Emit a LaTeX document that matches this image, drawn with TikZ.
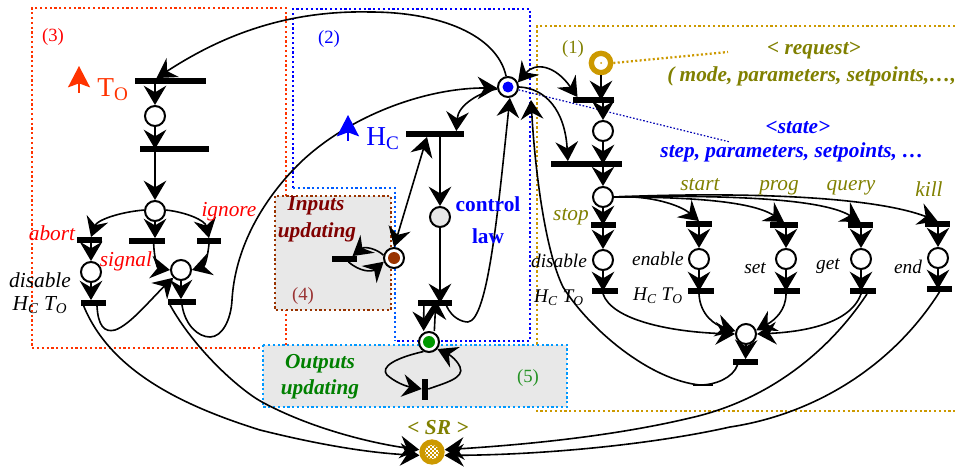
\documentclass[tikz,border=0pt]{standalone}
\usepackage{fontspec}
\setmainfont{Liberation Serif}
\usetikzlibrary{arrows.meta,calc}
\definecolor{gold}{HTML}{CC9900}
\definecolor{olive2}{HTML}{808000}
\definecolor{redbox}{HTML}{FF3300}
\definecolor{skyb}{HTML}{0099FF}
\definecolor{brownb}{HTML}{993300}
\definecolor{dred}{HTML}{800000}
\definecolor{greytone}{HTML}{E8E8E8}
\definecolor{dgreen}{HTML}{008000}
\newcommand{\HT}{H\textsubscript{C} T\textsubscript{O}}
\tikzset{
  x=0.75pt,y=-0.75pt,
  place/.style={circle,draw=black,fill=white,line width=1.5pt,minimum size=15pt,inner sep=0pt},
  bar/.style={rectangle,fill=black,inner sep=0pt,minimum height=4pt,minimum width=#1*0.75pt},
  vbar/.style={rectangle,fill=black,inner sep=0pt,minimum width=4.5pt,minimum height=#1*0.75pt},
  edge/.style={line width=1.2pt,-{Stealth[length=14.5pt,width=17pt,inset=5pt]}},
  edgeb/.style={line width=1.2pt,{Stealth[length=14.5pt,width=17pt,inset=5pt]}-{Stealth[length=14.5pt,width=17pt,inset=5pt]}},
  plain/.style={line width=1.2pt},
  zone/.style={line width=2pt,dash pattern=on 1.7pt off 1.9pt},
  lab/.style={inner sep=0pt,font=\fontsize{16}{18}\selectfont\itshape},
  labs/.style={inner sep=0pt,font=\fontsize{14.5}{16}\selectfont\itshape},
  head/.style={inner sep=0pt,font=\fontsize{16}{18}\selectfont\bfseries\itshape},
  num/.style={inner sep=0pt,font=\fontsize{14}{16}\selectfont},
  big/.style={inner sep=0pt,font=\fontsize{20.5}{24}\selectfont},
  clockarrow/.style={line width=1.6pt,-{Stealth[length=16pt,width=16.5pt,inset=3pt]}},
}
\begin{document}
\begin{tikzpicture}
\useasboundingbox (0,0) rectangle (955,470);
% zones
\draw[zone,redbox] (286,345) -- (286,8) -- (32,8) -- (32,348) -- (265,348);
\draw[zone,blue] (293,188) -- (293,9) -- (530,9) -- (530,341) -- (395,341);
\draw[zone,skyb!60!blue] (293,188) -- (395,188) -- (395,341);
\draw[zone,gold] (955,26) -- (537,26) -- (537,411) -- (955,411);
\draw[zone,brownb,fill=greytone] (275,196) rectangle (391,310);
\draw[zone,skyb,fill=greytone] (263,345) rectangle (567,407);
% places
\node[place] (a1) at (155,116) {};
\node[place] (a2) at (155,211) {};
\node[place] (a3) at (91,272) {};
\node[place] (a4) at (181,270) {};
\node[place] (main) at (508,87) {};
\node[place,fill=greytone] (c1) at (440,217) {};
\node[place] (green) at (429,342) {};
\node[place] (inp) at (394,258) {};
\node[place,draw=gold,line width=4pt,minimum size=14.5pt] (req) at (601,63) {};
\node[place] (r1) at (603,131) {};
\node[place] (r2) at (603,197) {};
\node[place] (s1) at (603,260) {};
\node[place] (s2) at (699,259) {};
\node[place] (s3) at (786,259) {};
\node[place] (s4) at (861,259) {};
\node[place] (s5) at (938,258) {};
\node[place] (col) at (746,334) {};
\node[circle,fill=gold,minimum size=19pt,inner sep=0pt] (sr) at (432,452) {};
% tokens
\fill[blue] (main) circle (5.5);
\fill[green!60!black] (green) circle (6);
\fill[brownb] (inp) circle (6);
\fill[gold] (req) circle (1);
\begin{scope}
\clip (sr) circle (7);
\fill[white] (sr) circle (7);
\foreach \i in {-4,...,3}{\foreach \j in {-4,...,3}{
  \pgfmathparse{int(mod(\i+\j+8,2))}
  \ifnum\pgfmathresult=0 \fill[gold] ($(sr)+(\i*2,\j*2)$) rectangle +(2,2);\fi}}
\end{scope}
% transitions
\node[bar=71] (ta) at (170.5,81) {};
\node[bar=69] (tb) at (174.5,149) {};
\node[bar=25] (tabort) at (89.5,240) {};
\node[bar=36] (tsig) at (147,241) {};
\node[bar=24] (tign) at (209,241) {};
\node[bar=25] (tc) at (93,303) {};
\node[bar=28] (td) at (182,302) {};
\node[bar=58] (thc) at (435,134) {};
\node[bar=34] (tlaw) at (434.5,303) {};
\node[vbar=21] (tout) at (425,389) {};
\node[bar=25] (tin) at (344.5,259) {};
\node[bar=41] (t1) at (593.5,100) {};
\node[bar=71] (t2) at (586.5,164) {};
\node[bar=25] (u1) at (603.5,225) {};
\node[bar=26] (u2) at (699,224) {};
\node[bar=28] (u3) at (784,225) {};
\node[bar=25] (u4) at (860.5,225) {};
\node[bar=25] (u5) at (937.5,224) {};
\node[bar=26] (v1) at (605,291) {};
\node[bar=26] (v2) at (701,291) {};
\node[bar=26] (v3) at (787,291) {};
\node[bar=26] (v4) at (863,291) {};
\node[bar=25] (v5) at (939.5,289) {};
\node[bar=25] (w) at (745.5,362) {};
\coordinate (reqend) at (728,52);
\coordinate (stateend) at (730,142);
% dotted callouts
\draw[gold,line width=1.7pt,dash pattern=on 1.5pt off 1.8pt] (req.east) -- (reqend);
\draw[blue!70!black,line width=.9pt,dash pattern=on 1.2pt off 1.4pt] (main.-15) -- (stateend);
% left net
\draw[edge] (main.100) .. controls (497,35) and (440,12) .. (370,12) .. controls (280,10) and (215,40) .. ([xshift=-10.5pt]ta.north);
\draw[edge] (a1|-ta.center) -- (a1.north);
\draw[edge] (a1.south) -- (a1|-tb.center);
\draw[edge] (a2|-tb.center) -- (a2.north);
\draw[edge] (a2.175) .. controls (120,212) and (97,220) .. (a3|-tabort.north);
\draw[edge] (a2.south) -- (a2|-tsig.north);
\draw[edge] (a2.5) .. controls (185,212) and (205,220) .. (tign.north);
\draw[edge] (a3|-tabort.center) -- (a3.north);
\draw[edge] (a3.south) -- (a3|-tc.north);
\draw[edge] ([xshift=5pt]tsig.south) .. controls (154,255) and (157,268) .. (a4.180);
\draw[edge] (tign.south) .. controls (208,255) and (205,266) .. (a4.0);
\draw[edge] (a4.south) -- (a4|-td.north);
\draw[edge] ([xshift=3pt]tc.south) .. controls (98,325) and (104,333) .. (115,330) .. controls (130,325) and (150,300) .. (a4.-135);
\draw[edge] ([xshift=0pt]td.south) .. controls (185,325) and (198,337) .. (210,337) .. controls (222,337) and (231,320) .. (232,300) .. controls (235,250) and (260,205) .. (293,170) .. controls (340,120) and (420,88) .. (main.185);
% SR arrows
\draw[edge] ([xshift=-7pt]tc.south) .. controls (110,370) and (180,405) .. (260,430) .. controls (320,445) and (370,453) .. (sr.-165);
\draw[edge] ([xshift=-9pt]td.south) .. controls (195,350) and (240,390) .. (262,402) .. controls (310,428) and (370,443) .. (sr.170);
\draw[edge] ([xshift=3pt]v4.south) .. controls (830,350) and (770,400) .. (690,418) .. controls (610,437) and (520,445) .. (sr.10);
\draw[edge] (v5.south) .. controls (890,370) and (810,415) .. (730,427) .. controls (650,445) and (540,455) .. (sr.-15);
% control
\draw[edge] (main.190) .. controls (480,92) and (458,105) .. ([xshift=16pt]thc.north);
\draw[edge] (c1|-thc.center) -- (c1.north);
\draw[edge] (c1.south) -- (c1|-tlaw.center);
\draw[plain] ([xshift=9pt]tlaw.south) .. controls (452,318) and (462,322) .. (468,322);
\draw[edge] (468,322) .. controls (488,320) and (498,210) .. (main.-80);
\draw[edgeb] (inp.north) -- ([xshift=-6pt]thc.south);
\draw[edge] ([xshift=-8pt]tlaw.south) -- ([xshift=-4pt]green.north);
\draw[edge] ([xshift=4pt]green.north) -- ([xshift=1pt]tlaw.north);
\draw[edge] (green.-120) .. controls (395,358) and (380,367) .. (387,375) .. controls (395,382) and (405,386) .. (tout.west);
\draw[edge] (tout.east) .. controls (445,383) and (465,378) .. (460,367) .. controls (457,360) and (450,355) .. (green.-40);
\draw[edge] (inp.165) .. controls (377,249) and (365,246) .. ([xshift=6pt]tin.north);
\draw[edge] ([xshift=3pt]tin.south) .. controls (360,272) and (372,272) .. (inp.-160);
% request net
\draw[edge] (req.south) -- (req|-t1.center);
\draw[edge] (r1|-t1.center) -- (r1.north);
\draw[edge] (r1.south) -- (r1|-t2.center);
\draw[edge] (r2|-t2.center) -- (r2.north);
\draw[edge] (r2.south) -- (r2|-u1.center);
\draw[edgeb] (main.25) .. controls (535,62) and (555,65) .. ([xshift=-12pt]t1.north);
\draw[edge] (main.east) .. controls (545,88) and (565,110) .. ([xshift=-14pt]t2.north);
\draw[edge] (r2.east) .. controls (650,195) and (680,205) .. (u2.north);
\draw[edge] (r2.east) .. controls (680,197) and (750,200) .. (u3.north);
\draw[edge] (r2.east) .. controls (710,195) and (820,197) .. (u4.north);
\draw[edge] (r2.east) .. controls (730,192) and (870,195) .. (u5.north);
\draw[edge] (s1|-u1.center) -- (s1.north);
\draw[edge] (s2|-u2.center) -- (s2.north);
\draw[edge] (s3|-u3.center) -- (s3.north);
\draw[edge] (s4|-u4.center) -- (s4.north);
\draw[edge] (s5|-u5.center) -- (s5.north);
\draw[edge] (s1.south) -- (s1|-v1.center);
\draw[edge] (s2.south) -- (s2|-v2.center);
\draw[edge] (s3.south) -- (s3|-v3.center);
\draw[edge] (s4.south) -- (s4|-v4.center);
\draw[edge] (s5.south) -- (s5|-v5.center);
\draw[edge] (s1|-v1.south) .. controls (612,320) and (670,332) .. (col.180);
\draw[edge] (s2|-v2.south) .. controls (700,315) and (715,325) .. (col.165);
\draw[edge] (s3|-v3.south) .. controls (786,310) and (775,320) .. (col.20);
\draw[edge] (s4|-v4.south) .. controls (850,325) and (800,332) .. (col.0);
\draw[edge] (col.south) -- (w.north);
\draw[plain] ([xshift=-6pt]w.south) .. controls (733,378) and (715,385) .. (700,385);
\draw[line width=.8pt] (693,385) -- (713,385);
\draw[edge] (700,385) .. controls (650,380) and (590,330) .. (563,287) .. controls (545,250) and (535,170) .. (531,100);
% clock arrows
\coordinate (ckt0) at (79,93);
\coordinate (ckt1) at (79,66);
\coordinate (ckh0) at (348,141);
\coordinate (ckh1) at (348,115);
\draw[clockarrow,color=redbox] (ckt0) -- (ckt1);
\draw[clockarrow,color=blue] (ckh0) -- (ckh1);
% labels
\node[num,text=red] (n3) at (53,37) {(3)};
\node[num,text=blue] (n2) at (329,39) {(2)};
\node[num,text=olive2] (n1) at (573,49) {(1)};
\node[num,text=dred!80!white] (n4) at (303,296) {(4)};
\node[num,text=dgreen!85!white] (n5) at (528,378) {(5)};
\node[big,text=redbox] (to) at (113,90) {T\textsubscript{O}};
\node[big,text=blue] (hc) at (383,139) {H\textsubscript{C}};
\node[head,text=olive2] (l1) at (814,51) {< request>};
\node[head,text=olive2,anchor=west] (l2) at (667,76) {( mode, parameters, setpoints,…,};
\node[head,text=blue] (l3) at (798,127) {<state>};
\node[head,text=blue] (l4) at (792,152) {step, parameters, setpoints, …};
\node[lab,text=olive2] at (700,185) {start};
\node[lab,text=olive2] at (779,188) {prog};
\node[lab,text=olive2] at (851,188) {query};
\node[lab,text=olive2] at (929,189) {kill};
\node[lab,text=olive2] at (571,217) {stop};
\node[lab,text=red] at (52,233) {abort};
\node[lab,text=red] at (229,212) {ignore};
\node[lab,text=red] at (126,261) {signal};
\node[lab] at (40,280) {disable};
\node[lab] at (40,305) {\HT};
\node[labs] at (559,261) {disable};
\node[labs] at (559,298) {\HT};
\node[labs] at (658,259) {enable};
\node[labs] at (658,296) {\HT};
\node[labs] at (755,268) {set};
\node[labs] at (828,266) {get};
\node[labs] at (908,267) {end};
\node[head,text=dred] at (316,206) {Inputs};
\node[head,text=dred] at (317,232) {updating};
\node[head,text=dgreen] at (320,364) {Outputs};
\node[head,text=dgreen] at (320,389) {updating};
\node[inner sep=0pt,text=blue,font=\fontsize{16}{18}\selectfont\bfseries] at (488,204) {control};
\node[inner sep=0pt,text=blue,font=\fontsize{16}{18}\selectfont\bfseries] at (488,236) {law};
\node[head,text=olive2] at (438,428) {< SR >};
\end{tikzpicture}
\end{document}
